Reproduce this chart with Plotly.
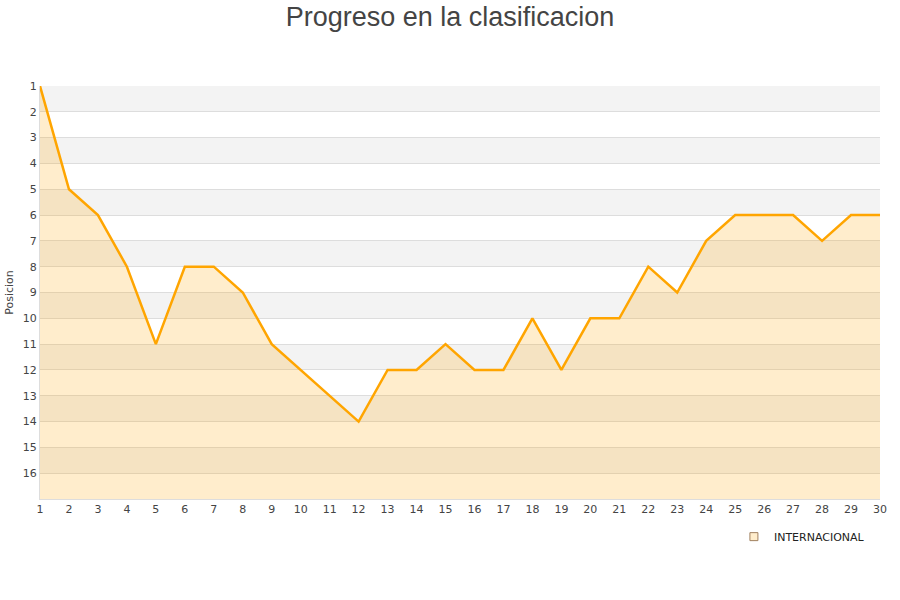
import plotly.graph_objects as go

jornadas = list(range(1, 31))
posiciones = [1, 5, 6, 8, 11, 8, 8, 9, 11, 12, 13, 14, 12, 12, 11, 12, 12, 10, 12, 10,
              10, 8, 9, 7, 6, 6, 6, 7, 6, 6]
equipo = "INTERNACIONAL"
y_ticks = list(range(1, 17))
y_bottom = 17

fig = go.Figure()

# baseline for fill
fig.add_trace(go.Scatter(x=jornadas, y=[y_bottom] * len(jornadas), mode="lines",
                         line=dict(width=0), showlegend=False, hoverinfo="skip"))
fig.add_trace(go.Scatter(x=jornadas, y=posiciones, mode="lines", fill="tonexty",
                         fillcolor="rgba(255,165,0,0.2)",
                         line=dict(color="#FFA500", width=2.5), showlegend=False))
# legend entry
fig.add_trace(go.Scatter(x=[None], y=[None], mode="markers", name=equipo,
                         marker=dict(symbol="square", size=8, color="#FFEDCC",
                                     line=dict(color="#A08060", width=1))))

shapes = []
for i, t in enumerate(range(1, y_bottom)):
    if i % 2 == 0:
        shapes.append(dict(type="rect", xref="paper", yref="y", x0=0, x1=1, y0=t, y1=t + 1,
                           fillcolor="#F3F3F3", line=dict(width=0), layer="below"))

fig.update_layout(
    width=900, height=600,
    paper_bgcolor="white", plot_bgcolor="white",
    margin=dict(l=40, r=20, t=86, b=101),
    title=dict(text="Progreso en la clasificacion", x=0.5, xanchor="center", y=0.988, yanchor="top",
               font=dict(family="Liberation Sans, Arial", size=27, color="#444444")),
    shapes=shapes,
    showlegend=True,
    legend=dict(orientation="h", x=0.988, xanchor="right", y=-0.056, yanchor="top",
                font=dict(family="DejaVu Sans", size=11, color="#222222"),
                bgcolor="rgba(0,0,0,0)"),
    font=dict(family="DejaVu Sans", size=11, color="#444444"),
)
fig.update_xaxes(range=[1, 30], tickmode="array", tickvals=jornadas, showgrid=False,
                 zeroline=False, showline=True, linecolor="#DDDDDD", ticks="",
                 automargin=False, tickfont=dict(size=11, color="#444444"))
fig.update_yaxes(range=[y_bottom, 1], tickmode="array", tickvals=y_ticks, showgrid=True,
                 gridcolor="#DDDDDD", gridwidth=1, zeroline=False, showline=True,
                 linecolor="#DDDDDD", ticks="", automargin=False,
                 tickfont=dict(size=11, color="#444444"),
                 title=dict(text="Posicion", font=dict(size=11, color="#444444"), standoff=6))

fig.write_html("out.html", config={"displayModeBar": False},
               post_script="document.body.style.margin='0';document.body.style.overflow='hidden';")
